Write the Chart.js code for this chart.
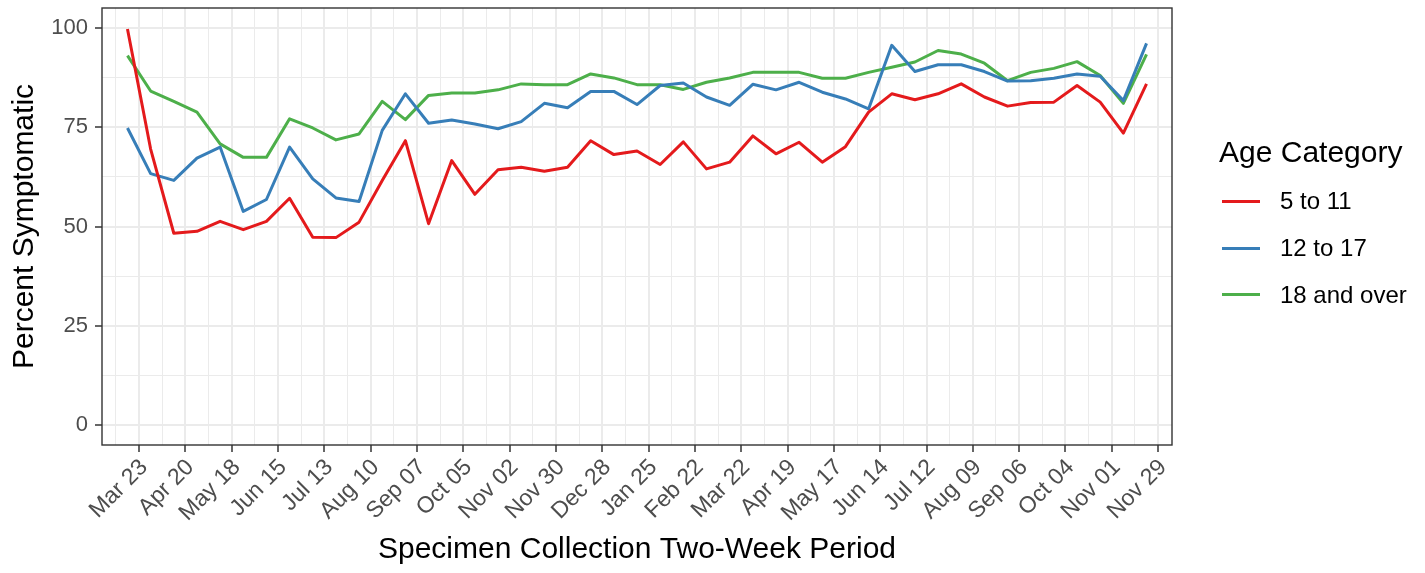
<!DOCTYPE html>
<html>
<head>
<meta charset="utf-8">
<script src="https://cdn.jsdelivr.net/npm/chart.js@4.4.1/dist/chart.umd.min.js"></script>
<style>
  html, body { margin: 0; padding: 0; background: #fff; }
  #wrap { position: relative; width: 1425px; height: 573px; }
  #legend { position: absolute; left: 1219px; top: 134px; font-family: 'Liberation Sans', Arial, sans-serif; color: #000; }
  #legend .title { font-size: 30px; line-height: 36px; height: 36px; margin-bottom: 8px; }
  #legend .item { display: flex; align-items: center; height: 46.7px; font-size: 24px; }
  #legend .key { width: 38px; height: 3px; margin-left: 3px; margin-right: 20px; }
</style>
</head>
<body>
<div id="wrap">
  <canvas id="chart" width="1425" height="573"></canvas>
  <div id="legend"></div>
</div>
<script>
// two-week periods, labelled every 4 weeks
const tickLabels = ['Mar 23', 'Apr 20', 'May 18', 'Jun 15', 'Jul 13', 'Aug 10', 'Sep 07', 'Oct 05',
  'Nov 02', 'Nov 30', 'Dec 28', 'Jan 25', 'Feb 22', 'Mar 22', 'Apr 19', 'May 17', 'Jun 14',
  'Jul 12', 'Aug 09', 'Sep 06', 'Oct 04', 'Nov 01', 'Nov 29'];
const yTicks = [0, 12.5, 25, 37.5, 50, 62.5, 75, 87.5, 100];

const ageCategories = ['5 to 11', '12 to 17', '18 and over'];
const age5to11 = [99.7, 69.5, 48.3, 48.8, 51.3, 49.2, 51.3, 57.1, 47.3, 47.2,
  51.1, 61.6, 71.6, 50.7, 66.6, 58.1, 64.3, 64.9, 63.9, 64.9,
  71.6, 68.1, 69.0, 65.6, 71.3, 64.5, 66.2, 72.8, 68.3, 71.2,
  66.2, 70.1, 78.8, 83.4, 81.9, 83.4, 85.9, 82.6, 80.3, 81.2,
  81.3, 85.5, 81.3, 73.5, 85.9];
const age12to17 = [74.8, 63.3, 61.6, 67.2, 70.0, 53.8, 56.8, 70.0, 62.0, 57.2,
  56.3, 74.2, 83.4, 76.0, 76.8, 75.8, 74.6, 76.4, 81.0, 79.9,
  84.0, 84.0, 80.7, 85.5, 86.1, 82.6, 80.5, 85.8, 84.4, 86.3,
  83.8, 82.1, 79.6, 95.6, 89.0, 90.7, 90.7, 89.0, 86.6, 86.7,
  87.3, 88.4, 87.8, 81.7, 96.1];
const age18plus = [93.0, 84.1, 81.5, 78.8, 70.8, 67.4, 67.4, 77.1, 74.8, 71.8,
  73.3, 81.5, 76.9, 83.0, 83.6, 83.6, 84.4, 85.9, 85.7, 85.7,
  88.4, 87.4, 85.7, 85.7, 84.5, 86.3, 87.4, 88.8, 88.8, 88.8,
  87.3, 87.3, 88.8, 90.1, 91.4, 94.3, 93.4, 91.1, 86.7, 88.8,
  89.8, 91.5, 88.0, 81.0, 93.3];
const colors = ['#E41A1C', '#377EB8', '#4DAF4A'];

Chart.defaults.font.family = "'Liberation Sans', Arial, sans-serif";

const toPoints = (vals) => vals.map((v, i) => ({ x: i, y: v }));
// x ticks: every period edge, labels on every other one
const isMajorX = (v) => Math.abs(((v - 0.5) / 2) - Math.round((v - 0.5) / 2)) < 1e-6;
const isMajorY = (v) => v % 25 === 0;

const panelBorder = {
  id: 'panelBorder',
  afterDatasetsDraw(chart) {
    const { ctx, chartArea: a } = chart;
    ctx.save();
    ctx.strokeStyle = '#333333';
    ctx.lineWidth = 1.4;
    ctx.strokeRect(a.left, a.top, a.right - a.left, a.bottom - a.top);
    ctx.restore();
  }
};

const chart = new Chart(document.getElementById('chart'), {
  type: 'line',
  data: {
    datasets: [age5to11, age12to17, age18plus].map((vals, k) => ({
      label: ageCategories[k],
      data: toPoints(vals),
      borderColor: colors[k],
      backgroundColor: colors[k],
      borderWidth: 3,
      borderJoinStyle: 'round',
      pointRadius: 0,
      tension: 0,
    })),
  },
  options: {
    responsive: false,
    animation: false,
    layout: { padding: { top: 8, right: 253, left: 0, bottom: 0 } },
    plugins: {
      legend: { display: false },
      tooltip: { enabled: false },
    },
    scales: {
      x: {
        type: 'linear',
        min: -1.1,
        max: 45.1,
        afterBuildTicks(scale) {
          const t = [];
          for (let v = -0.5; v <= 44.5; v += 1) t.push({ value: v });
          scale.ticks = t;
        },
        afterFit(scale) {
          scale.height = 128;
          scale.paddingLeft = 0;
          scale.paddingRight = 0;
        },
        border: { display: false },
        grid: {
          color: '#EBEBEB',
          lineWidth: (c) => (c.tick && isMajorX(c.tick.value) ? 2 : 1),
          tickColor: (c) => (c.tick && isMajorX(c.tick.value) ? '#333333' : 'rgba(0,0,0,0)'),
          tickLength: 7,
          tickWidth: 1.5,
        },
        ticks: {
          autoSkip: false,
          minRotation: 45,
          maxRotation: 45,
          padding: 2,
          labelOffset: 5,
          color: '#4D4D4D',
          font: { size: 23 },
          callback: (v) => (isMajorX(v) ? tickLabels[Math.round((v - 0.5) / 2)] : ''),
        },
        title: {
          display: true,
          text: 'Specimen Collection Two-Week Period',
          color: '#000',
          font: { size: 30 },
          padding: { top: 0, bottom: 5 },
        },
      },
      y: {
        min: -5,
        max: 105,
        afterBuildTicks(scale) {
          scale.ticks = yTicks.map((v) => ({ value: v }));
        },
        afterFit(scale) {
          scale.width = 102;
          scale.paddingTop = 0;
          scale.paddingBottom = 0;
        },
        border: { display: false },
        grid: {
          color: '#EBEBEB',
          lineWidth: (c) => (c.tick && isMajorY(c.tick.value) ? 2 : 1),
          tickColor: (c) => (c.tick && isMajorY(c.tick.value) ? '#333333' : 'rgba(0,0,0,0)'),
          tickLength: 7,
          tickWidth: 1.5,
        },
        ticks: {
          padding: 7,
          color: '#4D4D4D',
          font: { size: 22 },
          callback: (v) => (isMajorY(v) ? v : ''),
        },
        title: {
          display: true,
          text: 'Percent Symptomatic',
          color: '#000',
          font: { size: 30 },
          padding: { top: 7, bottom: 0 },
        },
      },
    },
  },
  plugins: [panelBorder],
});

// legend built from the chart's datasets
const legend = document.getElementById('legend');
legend.innerHTML = '<div class="title">Age Category</div>' +
  chart.data.datasets.map((d) =>
    `<div class="item"><span class="key" style="background:${d.borderColor}"></span><span>${d.label}</span></div>`
  ).join('');
</script>
</body>
</html>
